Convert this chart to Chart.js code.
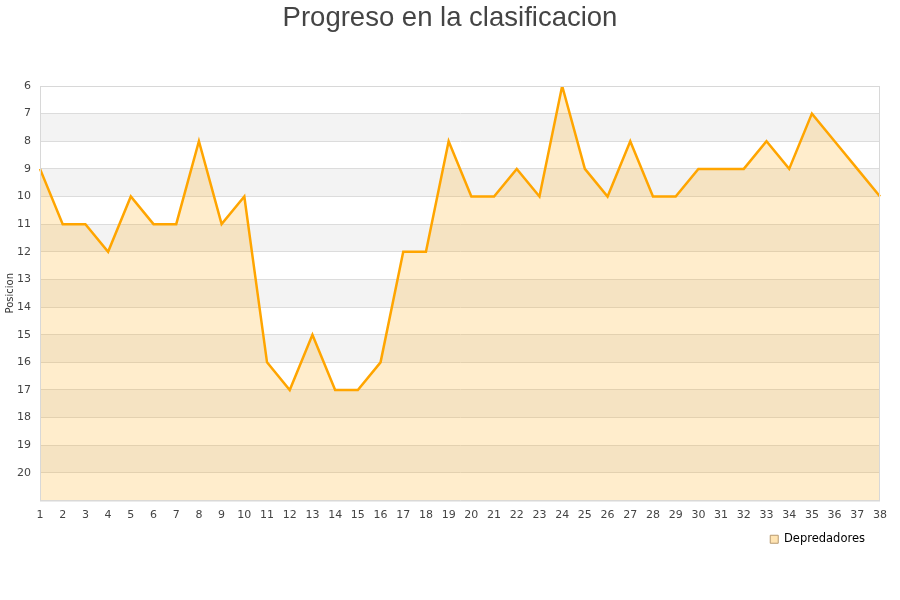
<!DOCTYPE html>
<html>
<head>
<meta charset="utf-8">
<script src="https://cdn.jsdelivr.net/npm/chart.js@4.4.1/dist/chart.umd.min.js"></script>
<style>
  html, body { margin: 0; padding: 0; background: #fff; }
  #wrap { width: 900px; height: 600px; }
</style>
</head>
<body>
<div id="wrap"><canvas id="chart" width="900" height="600"></canvas></div>
<script>
// Datos
const jornadas = ['1','2','3','4','5','6','7','8','9','10','11','12','13','14','15','16','17','18','19',
  '20','21','22','23','24','25','26','27','28','29','30','31','32','33','34','35','36','37','38'];
const posiciones = [9, 11, 11, 12, 10, 11, 11, 8, 11, 10, 16, 17, 15, 17, 17, 16, 12, 12, 8,
  10, 10, 9, 10, 6, 9, 10, 8, 10, 10, 9, 9, 9, 8, 9, 7, 8, 9, 10];
const yMin = 6;
const yMax = 21;

// Franjas grises alternas + borde del area
const bandas = {
  id: 'bandas',
  beforeDraw(chart) {
    const { ctx, chartArea: a, scales: { y } } = chart;
    ctx.save();
    ctx.fillStyle = '#f3f3f3';
    for (let v = yMin + 1; v < yMax; v += 2) {
      const t = y.getPixelForValue(v), b = y.getPixelForValue(v + 1);
      ctx.fillRect(a.left, t, a.right - a.left, b - t);
    }
    ctx.restore();
  },
  afterDraw(chart) {
    const { ctx, chartArea: a } = chart;
    ctx.save();
    ctx.strokeStyle = '#d8d8d8';
    ctx.lineWidth = 1;
    ctx.strokeRect(a.left + 0.5, a.top + 0.5, a.right - a.left - 1, a.bottom - a.top);
    ctx.restore();
  }
};

new Chart(document.getElementById('chart'), {
  type: 'line',
  data: {
    labels: jornadas,
    datasets: [{
      label: 'Depredadores',
      data: posiciones,
      borderColor: '#ffa500',
      borderWidth: 2.5,
      backgroundColor: 'rgba(255,165,0,0.2)',
      fill: { value: yMax },
      pointRadius: 0,
      tension: 0
    }]
  },
  options: {
    responsive: false,
    animation: false,
    layout: { padding: { left: 0, right: 0, top: 0, bottom: 45 } },
    plugins: {
      title: {
        display: true,
        text: 'Progreso en la clasificacion',
        color: '#444',
        font: { family: 'Liberation Sans', size: 27.5, weight: 'normal' },
        padding: { top: 2, bottom: 51 }
      },
      legend: {
        position: 'bottom',
        align: 'end',
        fullSize: false,
        labels: {
          color: '#000',
          font: { family: 'DejaVu Sans', size: 11.5 },
          boxWidth: 8,
          boxHeight: 8,
          padding: 15,
          generateLabels: () => [{
            text: 'Depredadores',
            fillStyle: 'rgba(255,165,0,0.3)',
            strokeStyle: '#b89a70',
            lineWidth: 1,
            datasetIndex: 0
          }]
        }
      },
      tooltip: { enabled: false }
    },
    scales: {
      x: {
        offset: false,
        grid: { display: false, drawTicks: false },
        border: { display: false },
        ticks: {
          color: '#444',
          font: { family: 'DejaVu Sans', size: 11 },
          padding: 8,
          maxRotation: 0,
          autoSkip: false
        },
        afterFit(s) { s.height = 18; }
      },
      y: {
        reverse: true,
        min: yMin,
        max: yMax,
        grid: { color: '#dcdcdc', drawTicks: false },
        border: { display: true, color: '#d8d8d8' },
        ticks: {
          stepSize: 1,
          color: '#444',
          font: { family: 'DejaVu Sans', size: 11 },
          padding: 9,
          callback: v => (v === yMax ? '' : v)
        },
        title: {
          display: true,
          text: 'Posicion',
          color: '#333',
          font: { family: 'DejaVu Sans', size: 10 },
          padding: { top: 4, bottom: 0 }
        },
        afterFit(s) { s.width = 40; }
      },
      derecha: {
        position: 'right',
        display: true,
        grid: { display: false, drawTicks: false },
        border: { display: false },
        ticks: { display: false },
        afterFit(s) { s.width = 20; }
      }
    }
  },
  plugins: [bandas]
});
</script>
</body>
</html>
